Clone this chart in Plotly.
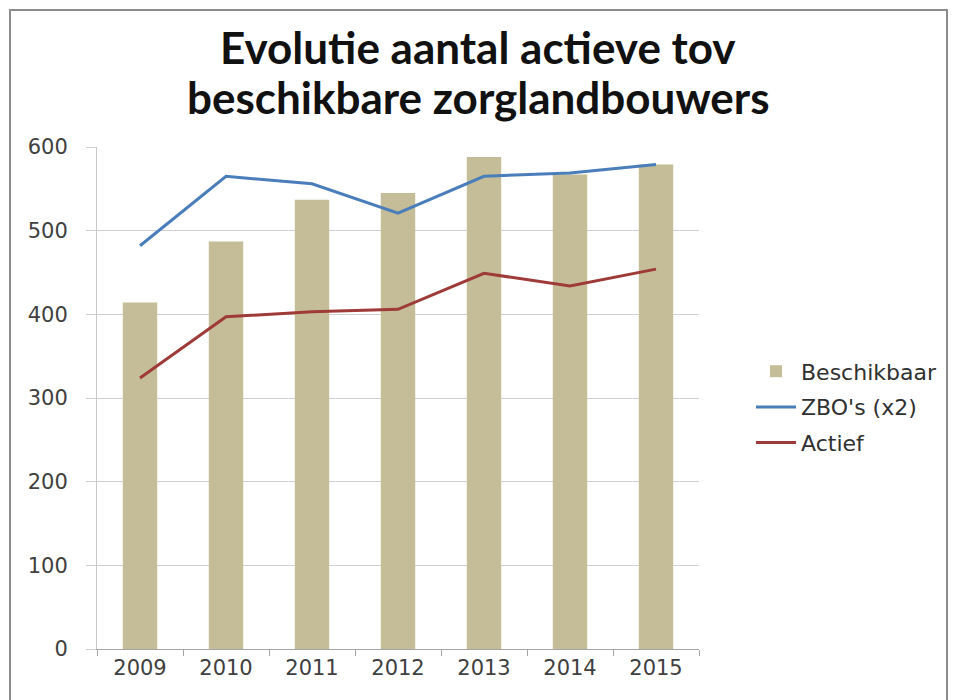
import plotly.graph_objects as go

years = ["2009", "2010", "2011", "2012", "2013", "2014", "2015"]
beschikbaar = [414, 487, 537, 545, 588, 567, 579]
zbos_x2 = [482, 565, 556, 521, 565, 569, 579]
actief = [324, 397, 403, 406, 449, 434, 454]

title_lines = ["Evolutie aantal actieve tov", "beschikbare zorglandbouwers"]

# the page body adds an 8px offset; coordinates below are in screenshot pixels
OFF = 8
W, H = 958, 700
left_px, right_px, top_px, bottom_px = 97, 699, 147, 649
L = left_px - OFF
R = W - (right_px - OFF)
T = top_px - OFF
B = H - (bottom_px - OFF)
pw = right_px - left_px
ph = bottom_px - top_px


def px_x(x):
    return (x - left_px) / pw


def px_y(y):
    return (bottom_px - y) / ph


fig = go.Figure()
fig.add_trace(go.Bar(x=years, y=beschikbaar, name="Beschikbaar",
                     marker=dict(color="#C4BD97", line=dict(width=0)),
                     legendgroup="a"))
fig.add_trace(go.Scatter(x=years, y=zbos_x2, name="ZBO's (x2)", mode="lines",
                         line=dict(color="#4A7EBB", width=3), legendgroup="b"))
fig.add_trace(go.Scatter(x=years, y=actief, name="Actief", mode="lines",
                         line=dict(color="#9E3A37", width=3), legendgroup="c"))

annotations = []
for txt, yc in zip(title_lines, [47, 97]):
    annotations.append(dict(text=txt, xref="paper", yref="paper",
                            x=px_x(478), y=px_y(yc), xanchor="center", yanchor="middle",
                            showarrow=False,
                            font=dict(family="Lato", size=44, color="#111111", weight="bold")))

fig.update_layout(
    width=W, height=H,
    margin=dict(l=L, r=R, t=T, b=B, pad=0),
    paper_bgcolor="white", plot_bgcolor="white",
    bargap=0.6,
    font=dict(family="DejaVu Sans", size=21, color="#404040"),
    xaxis=dict(type="category", showgrid=False, showline=True, linecolor="#A6A6A6",
               linewidth=1, ticks="outside", tickson="boundaries", ticklen=6,
               tickcolor="#A6A6A6", tickfont=dict(size=21, color="#404040"),
               fixedrange=True),
    yaxis=dict(range=[0, 600], tickvals=[0, 100, 200, 300, 400, 500, 600],
               showgrid=True, gridcolor="#D0D0D0", gridwidth=1,
               showline=True, linecolor="#C8C8C8", linewidth=1,
               ticks="outside", ticklen=10, tickcolor="#D0D0D0",
               zeroline=False, tickfont=dict(size=21, color="#404040"),
               ticklabelstandoff=14),
    legend=dict(x=px_x(751), y=px_y(407), xanchor="left", yanchor="middle",
                font=dict(size=22, color="#303030"), tracegroupgap=4,
                bgcolor="rgba(0,0,0,0)", itemwidth=40),
    showlegend=True,
    annotations=annotations,
    shapes=[dict(type="rect", xref="paper", yref="paper",
                 x0=px_x(10), x1=px_x(947), y0=px_y(712), y1=px_y(10),
                 line=dict(color="#8C8C8C", width=2), layer="above")],
)

fig.write_html("out.html")
